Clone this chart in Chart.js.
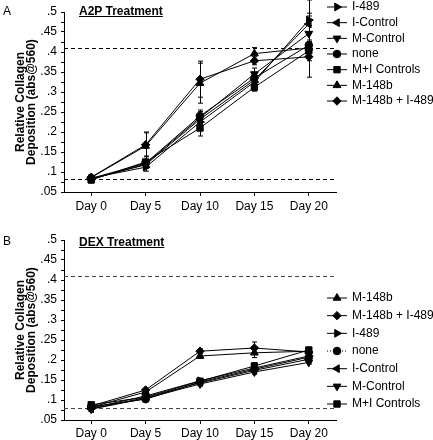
<!DOCTYPE html>
<html><head><meta charset="utf-8">
<script src="https://cdn.jsdelivr.net/npm/chart.js@4/dist/chart.umd.min.js"></script>
<style>
html,body{margin:0;padding:0;background:#fff;}
body{width:433px;height:440px;position:relative;overflow:hidden;font-family:"Liberation Sans",Arial,sans-serif;}
.c{position:absolute;left:0;width:433px;height:215px;}
.lbl{position:absolute;font-size:12px;line-height:12px;color:#000;white-space:nowrap;}
.ttl{font-weight:bold;text-decoration:underline;}
.ytl{position:absolute;width:180px;height:22px;font-size:12px;line-height:11px;font-weight:bold;text-align:center;color:#000;white-space:nowrap;transform:rotate(-90deg);transform-origin:50% 50%;}
</style></head><body>
<div class="c" style="top:0"><canvas id="ca" width="433" height="215"></canvas></div>
<div class="c" style="top:225px"><canvas id="cb" width="433" height="215"></canvas></div>
<div class="lbl" style="left:3px;top:5px">A</div>
<div class="lbl ttl" style="left:79px;top:5px">A2P Treatment</div>
<div class="lbl" style="left:3px;top:235px">B</div>
<div class="lbl ttl" style="left:79px;top:236px">DEX Treatment</div>
<div class="ytl" id="ytA" style="left:-64.5px;top:91px"></div>
<div class="ytl" id="ytB" style="left:-64.5px;top:319px"></div>
<script>
const days = ['Day 0', 'Day 5', 'Day 10', 'Day 15', 'Day 20'];
const yMin = 0.05, yMax = 0.5, yStep = 0.05, yMinorStep = 0.025;
const yTitle = ['Relative Collagen', 'Deposition (abs@560)'];
const thresholdsA = [0.41, 0.082];
const thresholdsB = [0.41, 0.081];

// Panel A (A2P Treatment), legend order
const namesA = ['I-489', 'I-Control', 'M-Control', 'none', 'M+I Controls', 'M-148b', 'M-148b + I-489'];
const a_I489     = [0.085, 0.112, 0.225, 0.325, 0.480];
const a_IControl = [0.083, 0.118, 0.232, 0.330, 0.470];
const a_MControl = [0.082, 0.120, 0.236, 0.345, 0.446];
const a_none     = [0.084, 0.122, 0.240, 0.335, 0.417];
const a_MI       = [0.080, 0.125, 0.210, 0.312, 0.403];
const a_M148b    = [0.086, 0.165, 0.322, 0.396, 0.410];
const a_M148bI   = [0.087, 0.168, 0.332, 0.378, 0.388];
const aErr_I489     = [0, 0.010, 0.015, 0.010, 0.050];
const aErr_IControl = [0, 0.008, 0.012, 0.010, 0.020];
const aErr_MControl = [0, 0.008, 0.015, 0.015, 0.020];
const aErr_none     = [0, 0.008, 0.015, 0.010, 0.080];
const aErr_MI       = [0.003, 0.015, 0.020, 0.010, 0.015];
const aErr_M148b    = [0.003, 0.035, 0.050, 0.015, 0.010];
const aErr_M148bI   = [0.003, 0.030, 0.045, 0.010, 0.010];

// Panel B (DEX Treatment), legend order
const namesB = ['M-148b', 'M-148b + I-489', 'I-489', 'none', 'I-Control', 'M-Control', 'M+I Controls'];
const b_M148b    = [0.082, 0.120, 0.210, 0.218, 0.222];
const b_M148bI   = [0.085, 0.125, 0.222, 0.230, 0.220];
const b_I489     = [0.080, 0.110, 0.148, 0.180, 0.210];
const b_none     = [0.083, 0.102, 0.145, 0.177, 0.207];
const b_IControl = [0.078, 0.106, 0.143, 0.174, 0.202];
const b_MControl = [0.077, 0.104, 0.140, 0.170, 0.194];
const b_MI       = [0.088, 0.107, 0.147, 0.185, 0.225];
const bErr_M148b    = [0.003, 0.004, 0.006, 0.012, 0.004];
const bErr_M148bI   = [0.003, 0.004, 0.006, 0.015, 0.004];
const bErr_I489     = [0.002, 0.003, 0.004, 0.006, 0.004];
const bErr_none     = [0.002, 0.003, 0.004, 0.005, 0.004];
const bErr_IControl = [0.002, 0.003, 0.004, 0.005, 0.004];
const bErr_MControl = [0.002, 0.003, 0.004, 0.005, 0.004];
const bErr_MI       = [0.004, 0.003, 0.005, 0.008, 0.005];

const FAM = '"Liberation Sans", Arial, Helvetica, sans-serif';
const markers = {
  'I-489': {pointStyle: 'triangle', pointRotation: 90, pointRadius: 4.5},
  'I-Control': {pointStyle: 'triangle', pointRotation: -90, pointRadius: 4.5},
  'M-Control': {pointStyle: 'triangle', pointRotation: 180, pointRadius: 4.5},
  'none': {pointStyle: 'circle', pointRotation: 0, pointRadius: 3.8},
  'M+I Controls': {pointStyle: 'rect', pointRotation: 0, pointRadius: 4.5},
  'M-148b': {pointStyle: 'triangle', pointRotation: 0, pointRadius: 4.5},
  'M-148b + I-489': {pointStyle: 'rectRot', pointRotation: 0, pointRadius: 4.2}
};

['ytA', 'ytB'].forEach(id => {
  const el = document.getElementById(id);
  yTitle.forEach((t, i) => {
    const d = document.createElement('div');
    d.textContent = t;
    el.appendChild(d);
  });
});

function ds(name, data, err, extra) {
  const m = markers[name];
  return Object.assign({
    label: name, data: data, err: err,
    borderColor: '#000', backgroundColor: '#000', borderWidth: 1,
    pointStyle: m.pointStyle, pointRotation: m.pointRotation, pointRadius: m.pointRadius,
    pointBackgroundColor: '#000', pointBorderColor: '#000', pointBorderWidth: 1,
    tension: 0, fill: false
  }, extra || {});
}

const minorTickPlugin = {
  id: 'minorTicks',
  afterDraw(chart) {
    const ctx = chart.ctx; const ys = chart.scales.y; const x0 = chart.chartArea.left;
    ctx.save(); ctx.strokeStyle = '#000'; ctx.lineWidth = 1;
    for (let v = yMin + yMinorStep; v < yMax; v += yStep) {
      const y = Math.round(ys.getPixelForValue(v)) + 0.5;
      ctx.beginPath(); ctx.moveTo(x0 - 3, y); ctx.lineTo(x0, y); ctx.stroke();
    }
    ctx.restore();
  }
};

const thresholdPlugin = {
  id: 'thresholds',
  beforeDatasetsDraw(chart, args, opts) {
    const {ctx, chartArea} = chart; const ys = chart.scales.y;
    ctx.save();
    ctx.strokeStyle = opts.color || '#000'; ctx.lineWidth = 1.2; ctx.setLineDash([4, 3]);
    (opts.values || []).forEach(v => {
      const y = Math.round(ys.getPixelForValue(v)) + 0.5;
      ctx.beginPath(); ctx.moveTo(chartArea.left, y); ctx.lineTo(chartArea.right, y); ctx.stroke();
    });
    ctx.restore();
  }
};

const errPlugin = {
  id: 'errBars',
  afterDatasetsDraw(chart) {
    const ctx = chart.ctx; const ys = chart.scales.y;
    ctx.save(); ctx.strokeStyle = '#000'; ctx.lineWidth = 1;
    chart.data.datasets.forEach((d, i) => {
      const meta = chart.getDatasetMeta(i);
      (d.err || []).forEach((e, j) => {
        if (!e) return;
        const x = Math.round(meta.data[j].x) + 0.5;
        const y1 = ys.getPixelForValue(d.data[j] + e), y2 = ys.getPixelForValue(d.data[j] - e);
        ctx.beginPath();
        ctx.moveTo(x, y1); ctx.lineTo(x, y2);
        ctx.moveTo(x - 2.5, y1); ctx.lineTo(x + 2.5, y1);
        ctx.moveTo(x - 2.5, y2); ctx.lineTo(x + 2.5, y2);
        ctx.stroke();
      });
    });
    ctx.restore();
  }
};

const legendPlugin = {
  id: 'sideLegend',
  afterDraw(chart, args, opts) {
    const ctx = chart.ctx;
    ctx.save();
    chart.data.datasets.forEach((d, i) => {
      const y = opts.top + i * opts.gap;
      ctx.strokeStyle = '#000'; ctx.fillStyle = '#000'; ctx.lineWidth = 1;
      ctx.setLineDash(d.legendDash || []);
      ctx.beginPath(); ctx.moveTo(opts.x, y); ctx.lineTo(opts.x + 20, y); ctx.stroke();
      ctx.setLineDash([]);
      if (Chart.helpers && Chart.helpers.drawPoint) {
        Chart.helpers.drawPoint(ctx, {pointStyle: d.pointStyle, rotation: d.pointRotation, radius: d.pointRadius, borderWidth: 1}, opts.x + 10, y);
      }
      ctx.font = '12px ' + FAM; ctx.textBaseline = 'middle'; ctx.textAlign = 'left';
      ctx.fillText(d.label, opts.x + 25, y);
    });
    ctx.restore();
  }
};

function fmt(v) {
  return String(+Number(v).toFixed(3)).replace(/^0/, '');
}

function makeChart(id, datasets, opt) {
  return new Chart(document.getElementById(id), {
    type: 'line',
    data: {labels: days, datasets: datasets},
    plugins: [thresholdPlugin, errPlugin, minorTickPlugin, legendPlugin],
    options: {
      responsive: false, animation: false, devicePixelRatio: 1,
      layout: {padding: {top: opt.top, right: 97, left: 0, bottom: 0}},
      plugins: {
        legend: {display: false}, tooltip: {enabled: false},
        thresholds: {values: opt.thresholds, color: opt.dashColor},
        sideLegend: {x: 327, top: opt.legTop, gap: opt.legGap}
      },
      scales: {
        x: {
          type: 'category', offset: true,
          grid: {display: true, drawOnChartArea: false, drawTicks: true, tickLength: 4, offset: false, color: '#000'},
          border: {display: true, color: '#000', width: 1},
          ticks: {color: '#000', font: {size: 12, family: FAM}, padding: opt.xPad, maxRotation: 0, autoSkip: false},
          afterFit(s) { s.height = opt.xH; }
        },
        y: {
          min: yMin, max: yMax,
          grid: {display: true, drawOnChartArea: false, drawTicks: true, tickLength: 3, color: '#000'},
          border: {display: true, color: '#000', width: 1},
          ticks: {stepSize: yStep, autoSkip: false, color: '#000', font: {size: 12, family: FAM}, padding: 4, callback: fmt},
          title: {display: false},
          afterFit(s) { s.width = 64; }
        }
      }
    }
  });
}

makeChart('ca', [
  ds('I-489', a_I489, aErr_I489),
  ds('I-Control', a_IControl, aErr_IControl),
  ds('M-Control', a_MControl, aErr_MControl),
  ds('none', a_none, aErr_none),
  ds('M+I Controls', a_MI, aErr_MI),
  ds('M-148b', a_M148b, aErr_M148b),
  ds('M-148b + I-489', a_M148bI, aErr_M148bI)
], {top: 12, xH: 23, xPad: 3, thresholds: thresholdsA, dashColor: '#000', legTop: 7, legGap: 15.67});

makeChart('cb', [
  ds('M-148b', b_M148b, bErr_M148b),
  ds('M-148b + I-489', b_M148bI, bErr_M148bI),
  ds('I-489', b_I489, bErr_I489),
  ds('none', b_none, bErr_none, {legendDash: [1, 2]}),
  ds('I-Control', b_IControl, bErr_IControl),
  ds('M-Control', b_MControl, bErr_MControl),
  ds('M+I Controls', b_MI, bErr_MI)
], {top: 15, xH: 20, xPad: 2, thresholds: thresholdsB, dashColor: '#444', legTop: 73, legGap: 17.67});
</script>
</body></html>
